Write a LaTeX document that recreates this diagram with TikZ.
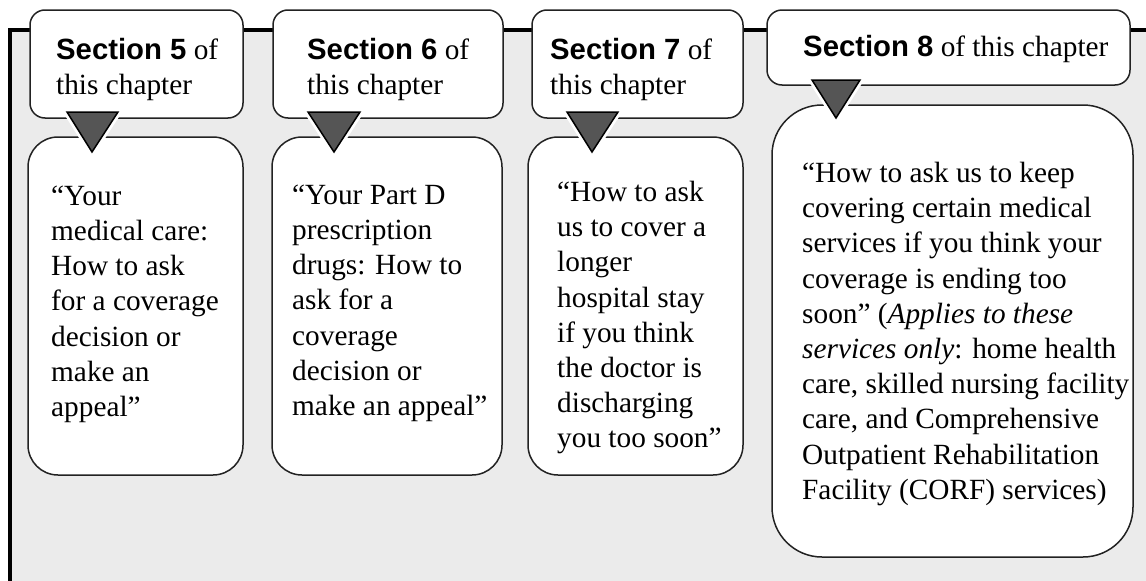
\documentclass[tikz,border=0pt]{standalone}
\usepackage{fontspec}
\setmainfont{Liberation Serif}
\newfontfamily\secfont{Liberation Sans}
\definecolor{panelgrey}{HTML}{EBEBEB}
\definecolor{trigrey}{HTML}{555555}
\definecolor{edgecol}{HTML}{222222}
\tikzset{
  tab/.style={draw=edgecol, line width=1.5pt, fill=white, rounded corners=15pt, inner sep=0pt},
  card/.style={draw=edgecol, line width=1.5pt, fill=white, rounded corners=30pt, inner sep=0pt},
  bigcard/.style={card, rounded corners=50pt},
  txt/.style={anchor=north west, inner sep=0pt, align=left, font=\fontsize{29.3}{35.2}\selectfont},
  pointer/.style={fill=trigrey, draw=black, line width=1.5pt, line join=miter},
  halo/.style={draw=white, line width=7pt, line join=miter}
}
\newcommand{\sect}[1]{{\secfont\bfseries Section #1}}
\newcommand{\firstline}{\rule{0pt}{20pt}}
\begin{document}
\begin{tikzpicture}[x=1pt,y=-1pt]
\useasboundingbox (0,0) rectangle (1146,581);
% panel
\fill[panelgrey] (10,30) rectangle (1146,581);
\draw[line width=3.5pt] (10,581) -- (10,30) -- (1146,30);
% tabs
\node[tab, minimum width=213pt, minimum height=108pt] (t5) at (136.5,64) {};
\node[tab, minimum width=230pt, minimum height=108pt] (t6) at (388,64) {};
\node[tab, minimum width=211pt, minimum height=108pt] (t7) at (637.5,64) {};
\node[tab, minimum width=363pt, minimum height=75pt] (t8) at (948.5,47.5) {};
% cards
\node[card, minimum width=215pt, minimum height=338pt] (c5) at (135.5,306) {};
\node[card, minimum width=230pt, minimum height=338pt] (c6) at (387,306) {};
\node[card, minimum width=215pt, minimum height=338pt] (c7) at (635.5,306) {};
\node[bigcard, minimum width=361pt, minimum height=452pt] (c8) at (952.5,331) {};
% pointers
\foreach \a/\b/\c/\yt/\yb in {67/118/92/112/152, 308/360/334/112/152, 567/618/592/112/152, 812/860/836/80/118}{
  \draw[halo] (\a,\yt) -- (\b,\yt) -- (\c,\yb) -- cycle;
  \draw[pointer] (\a,\yt) -- (\b,\yt) -- (\c,\yb) -- cycle;
}
% tab texts
\node[txt] (l5) at (56,38) {\firstline\sect{5} of\\this chapter};
\node[txt] (l6) at (307,38) {\firstline\sect{6} of\\this chapter};
\node[txt] (l7) at (550,38) {\firstline\sect{7} of\\this chapter};
\node[txt] (l8) at (803,35) {\firstline\sect{8} of this chapter};
% card texts
\node[txt] (b5) at (51,185) {\firstline “Your\\medical care:\\How to ask\\for a coverage\\decision or\\make an\\appeal”};
\node[txt] (b6) at (292,184) {\firstline “Your Part D\\prescription\\drugs: How to\\ask for a\\coverage\\decision or\\make an appeal”};
\node[txt] (b7) at (557,181) {\firstline “How to ask\\us to cover a\\longer\\hospital stay\\if you think\\the doctor is\\discharging\\you too soon”};
\node[txt] (b8) at (802,162) {\firstline “How to ask us to keep\\covering certain medical\\services if you think your\\coverage is ending too\\soon” (\textit{Applies to these}\\\textit{services only}: home health\\care, skilled nursing facility\\care, and Comprehensive\\Outpatient Rehabilitation\\Facility (CORF) services)};
\end{tikzpicture}
\end{document}
